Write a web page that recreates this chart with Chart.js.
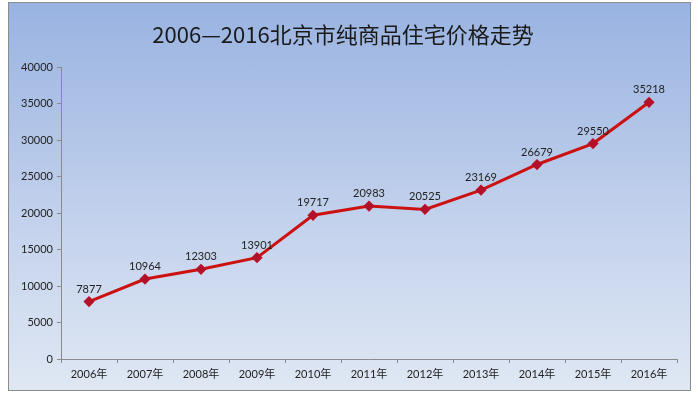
<!DOCTYPE html>
<html>
<head>
<meta charset="utf-8">
<script src="https://cdn.jsdelivr.net/npm/chart.js@4"></script>
<style>
  html, body { margin: 0; padding: 0; background: #fff; }
  #wrap {
    position: absolute;
    left: 8px;
    top: 2px;
    width: 681px;
    height: 387px;
    border: 1px solid #8c8c8c;
    background: linear-gradient(to bottom, #99b3e1 0%, #c2d1ec 55%, #dfe7f3 100%);
  }
</style>
</head>
<body>
<div id="wrap"><canvas id="chart" width="681" height="387"></canvas></div>
<script>
// Data
const years = ["2006年", "2007年", "2008年", "2009年", "2010年", "2011年", "2012年", "2013年", "2014年", "2015年", "2016年"];
const prices = [7877, 10964, 12303, 13901, 19717, 20983, 20525, 23169, 26679, 29550, 35218];
const titleText = "2006—2016北京市纯商品住宅价格走势";

const tickFont = { family: "Lato, 'Noto Sans CJK SC', sans-serif", size: 11 };

// Draw value labels above each point
const valueLabels = {
  id: "valueLabels",
  afterDatasetsDraw(chart) {
    const ctx = chart.ctx;
    const meta = chart.getDatasetMeta(0);
    ctx.save();
    ctx.font = "11px Lato, sans-serif";
    ctx.fillStyle = "#222";
    ctx.textAlign = "center";
    ctx.textBaseline = "bottom";
    meta.data.forEach((pt, i) => {
      ctx.fillText(String(prices[i]), pt.x, pt.y - 7);
    });
    ctx.restore();
  }
};

new Chart(document.getElementById("chart"), {
  type: "line",
  data: {
    labels: years,
    datasets: [
      {
        data: prices,
        borderColor: "#cc1111",
        borderWidth: 3,
        pointStyle: "rectRot",
        pointRadius: 3.5,
        pointBackgroundColor: "#b3102a",
        pointBorderColor: "#b3102a",
        tension: 0,
      },
    ],
  },
  options: {
    responsive: false,
    animation: false,
    layout: { padding: { left: 0, right: 13, top: 0, bottom: 0 } },
    plugins: {
      legend: { display: false },
      tooltip: { enabled: false },
      title: {
        display: true,
        text: titleText,
        color: "#1a1a1a",
        font: { family: "'Noto Sans CJK SC', sans-serif", size: 22, weight: "normal" },
        padding: { top: 18, bottom: 20 },
      },
    },
    scales: {
      x: {
        offset: true,
        grid: { offset: true, drawOnChartArea: false, drawTicks: true, tickLength: 4, color: "#8a8a8a" },
        border: { color: "#8a8a8a" },
        ticks: { color: "#222", font: tickFont, padding: 5, maxRotation: 0 },
        afterFit(scale) { scale.height = 31; },
      },
      y: {
        min: 0,
        max: 40000,
        grid: { drawOnChartArea: false, drawTicks: true, tickLength: 4, color: "#8a8a8a" },
        border: { color: "#8a8a8a" },
        ticks: {
          stepSize: 5000,
          color: "#222",
          font: tickFont,
          padding: 4,
          callback: (value) => String(value),
        },
        afterFit(scale) { scale.width = 52; },
      },
    },
  },
  plugins: [valueLabels],
});
</script>
</body>
</html>
